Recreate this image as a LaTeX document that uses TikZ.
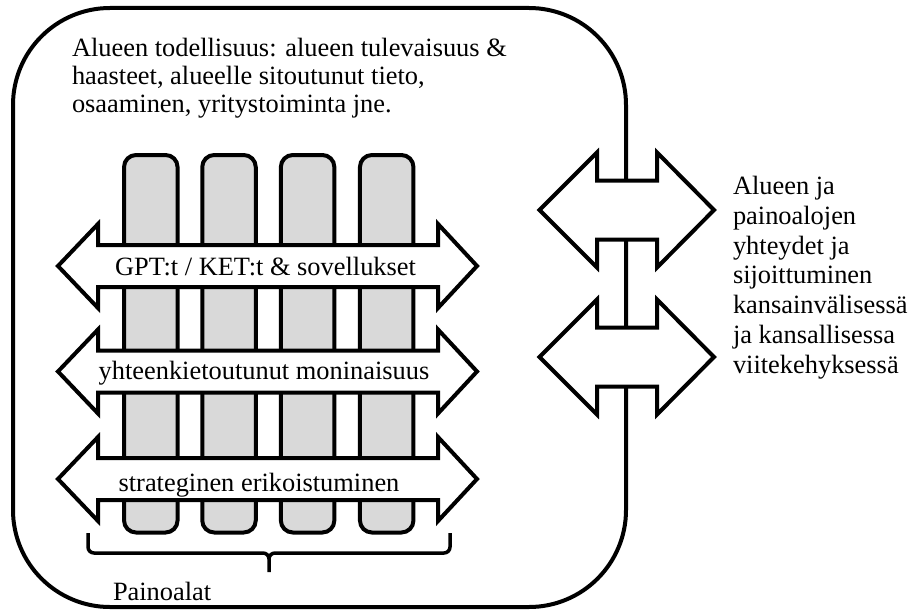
\documentclass[tikz,border=0pt]{standalone}
\usepackage{fontspec}
\setmainfont{Liberation Serif}
\definecolor{colgray}{HTML}{D9D9D9}
% horizontal double arrow: left tip, left head base, right head base, right tip,
% centre line, half shaft height, half head height
\newcommand{\hdarrow}[7]{%
  \draw[bigarrow] (#1,#5) -- (#2,#5-#7) -- (#2,#5-#6) -- (#3,#5-#6) -- (#3,#5-#7)
    -- (#4,#5) -- (#3,#5+#7) -- (#3,#5+#6) -- (#2,#5+#6) -- (#2,#5+#7) -- cycle;}
\begin{document}
\begin{tikzpicture}[x=1pt,y=-1pt,
  txt/.style={font=\fontsize{26.4}{29.7}\selectfont, inner sep=0pt, outer sep=0pt},
  frame/.style={draw, line width=4pt, rounded corners=97pt, inner sep=0pt},
  column/.style={draw, line width=4pt, fill=colgray, rounded corners=12pt,
    minimum width=53.5pt, minimum height=377.5pt, inner sep=0pt},
  bigarrow/.style={draw, line width=4pt, fill=white, line join=miter, miter limit=10},
  bracket/.style={draw, line width=3.5pt},
]
\useasboundingbox (0,0) rectangle (912,610);

% the region
\node[frame, minimum width=613pt, minimum height=599pt] (region) at (319.5,307.5) {};
% multi-line nodes sit on the baseline of their last line
\node[txt, anchor=base west, align=left] (reality) at (72,112.6)
  {Alueen todellisuus: alueen tulevaisuus \&\\[-1.4pt]
   haasteet, alueelle sitoutunut tieto,\\[-1.4pt]
   osaaminen, yritystoiminta jne.};

% focus areas
\node[column] (c1) at (150.8,343.75) {};
\node[column] (c2) at (229.0,343.75) {};
\node[column] (c3) at (307.6,343.75) {};
\node[column] (c4) at (386.7,343.75) {};

% cross-cutting themes
\hdarrow{58}{98}{438}{477}{266}{21}{42}
\hdarrow{58}{98}{438}{477}{371.5}{21}{42}
\hdarrow{58}{98}{438}{477}{479}{21}{42}
\node[txt, anchor=base] (gpt) at (265.5,275) {GPT:t / KET:t \& sovellukset};
\node[txt, anchor=base] (div) at (264,379) {yhteenkietoutunut moninaisuus};
\node[txt, anchor=base] (spec) at (259,491) {strateginen erikoistuminen};

% bracket under the columns
\coordinate (bl) at (88,533);
\coordinate (br) at (450,533);
\coordinate (bm) at (269,572);
\draw[bracket] (bl) -- (88,547) to[out=-90,in=180] (94,553) -- (263,553)
  to[out=0,in=90] (bm |- 0,559) -- (bm);
\draw[bracket] (bm |- 0,559) to[out=90,in=180] (275,553) -- (444,553)
  to[out=0,in=-90] (450,547) -- (br);
\node[txt, anchor=base west] (areas) at (113,600) {Painoalat};

% links outward
\hdarrow{539.5}{597}{657}{714}{210}{29.5}{57.5}
\hdarrow{539.5}{597}{657}{714}{357}{29.5}{57.5}
\node[txt, anchor=base west, align=left] (links) at (733,373)
  {Alueen ja\\ painoalojen\\ yhteydet ja\\ sijoittuminen\\ kansainvälisessä\\
   ja kansallisessa\\ viitekehyksessä};
\end{tikzpicture}
\end{document}
